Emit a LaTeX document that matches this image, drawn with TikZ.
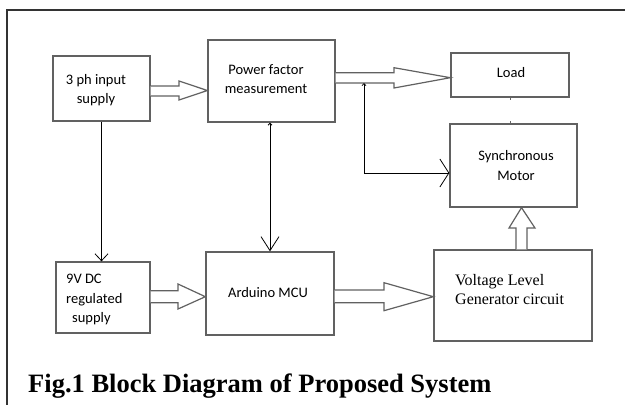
\documentclass[tikz,border=0pt]{standalone}
\usepackage{fontspec}
\setmainfont{Liberation Serif}
\newfontfamily\calibri{Carlito}
\usetikzlibrary{arrows.meta,calc}

\begin{document}
\begin{tikzpicture}[x=1pt,y=-1pt,
  blk/.style={draw=black!62, line width=1.3pt, inner sep=0pt},
  lbl/.style={font=\calibri\fontsize{14.5}{19.5}\selectfont, align=center, inner sep=0pt},
  hollow/.style={draw=black!62, line width=1.2pt, fill=white, line join=miter},
  wire/.style={draw=black, line width=0.8pt},
  tick/.style={draw=black!60, line width=1pt},
]
\useasboundingbox (0,0) rectangle (625,405);

% page frame (top and left rules)
\draw[black!80, line width=2pt] (6.5,405) -- (6.5,9.5) -- (625,9.5);

% blocks
\node[blk, minimum width=97pt,  minimum height=65pt] (ph)    at (101.5,88.5) {};
\node[blk, minimum width=127pt, minimum height=82pt] (pf)    at (271.5,81)   {};
\node[blk, minimum width=118pt, minimum height=44pt] (load)  at (510,75)     {};
\node[blk, minimum width=127pt, minimum height=83pt] (synch) at (513.5,165.5){};
\node[blk, minimum width=94pt,  minimum height=71pt] (v9)    at (103,297.5)  {};
\node[blk, minimum width=128pt, minimum height=83pt] (ard)   at (270,293.5)  {};
\node[blk, minimum width=158pt, minimum height=91pt] (vlg)   at (513,295.5)  {};

% block labels
\node[lbl] (phT)   at (96,90)      {3 ph input\\supply};
\node[lbl] (pfT)   at (266,79)     {Power factor\\measurement};
\node[lbl] (loadT) at (511,73)     {Load};
\node[lbl] (synT)  at (516,165.5)  {Synchronous\\Motor};
\node[lbl, align=left, anchor=west] (v9T) at (66,299.5) {9V DC\\regulated\\\hspace*{6pt}supply};
\node[lbl] (ardT)  at (268,293)    {Arduino MCU};
\node[font=\fontsize{16}{19}\selectfont, align=left, anchor=west, inner sep=0pt] (vlgT)
     at (455,289.5) {Voltage Level\\Generator circuit};

% caption
\node[font=\bfseries\fontsize{26.5}{30}\selectfont, anchor=base west, inner sep=0pt] (cap)
     at (28,392) {Fig.1 Block Diagram of Proposed System};

% hollow (power) arrows
\draw[hollow] (ph.east |- 0,86) -- (179,86) -- (179,81) -- (pf.west |- 0,90.5)
      -- (179,100) -- (179,96) -- (ph.east |- 0,96);
\draw[hollow] (pf.east |- 0,72.7) -- (394,72.7) -- (394,67.7) -- (load.west |- 0,77.7)
      -- (394,88) -- (394,83) -- (pf.east |- 0,83);
\draw[hollow] (v9.east |- 0,290.7) -- (178,290.7) -- (178,284) -- (ard.west |- 0,296.7)
      -- (178,309) -- (178,302.7) -- (v9.east |- 0,302.7);
\draw[hollow] (ard.east |- 0,290) -- (384,290) -- (384,282.7) -- (vlg.west |- 0,296.7)
      -- (384,310.7) -- (384,302.7) -- (ard.east |- 0,302.7);
\draw[hollow] (516,0 |- vlg.north) -- (516,228) -- (509,228) -- (521.5,0 |- synch.south)
      -- (535,228) -- (527,228) -- (527,0 |- vlg.north);

% signal wires
\coordinate (tap) at (364,83);
\draw[wire, {Straight Barb[length=2pt,width=4pt]}-{Straight Barb[length=9pt,width=28pt]}]
     (tap) |- ($(synch.west)+(0,7.5)$);
\draw[wire, -{Straight Barb[length=7pt,width=13pt]}] (ph.south) -- (ph.south |- v9.north);
\draw[wire, {Straight Barb[length=2pt,width=4pt]}-{Straight Barb[length=14pt,width=18pt]}]
     (ard.north |- pf.south) -- (ard.north);

% stub marks between load and motor
\draw[tick] (load.south) -- ++(0,2.5);
\draw[tick] (synch.north -| load.south) -- ++(0,-2.5);
\end{tikzpicture}
\end{document}
